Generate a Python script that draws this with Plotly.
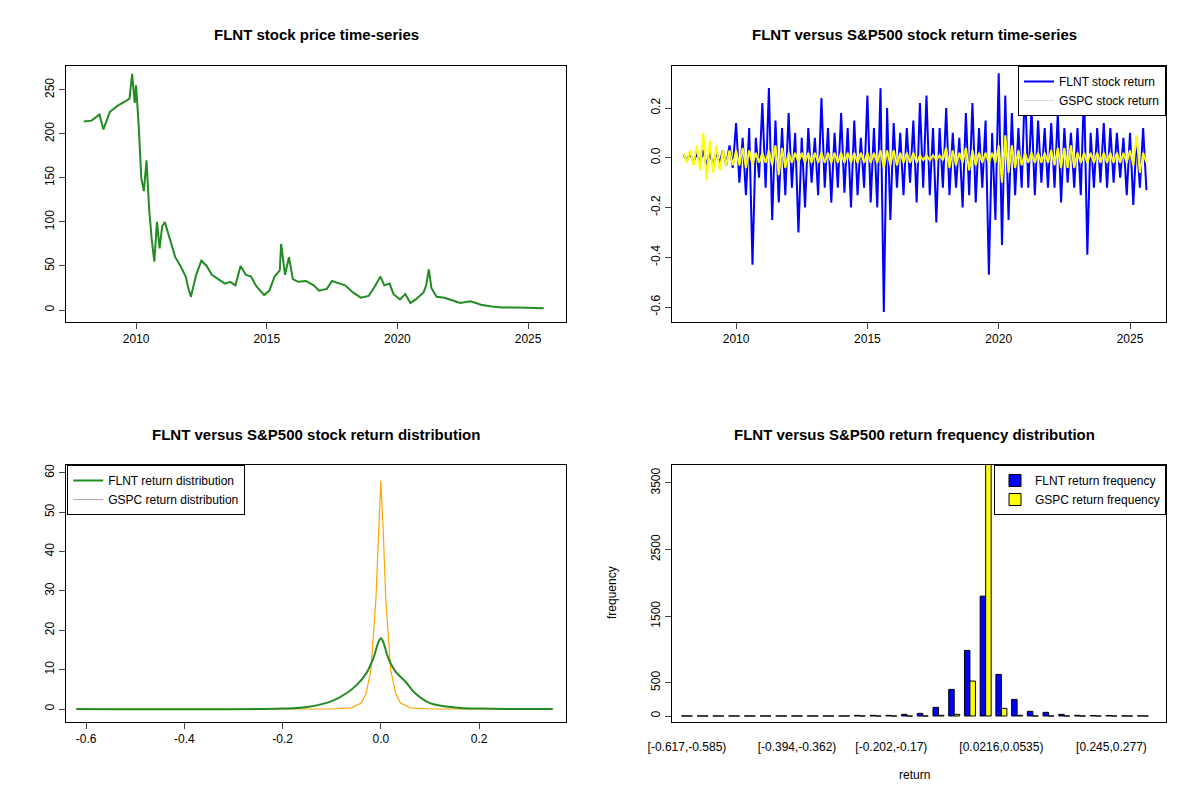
import plotly.graph_objects as go

# ---- price series (estimated) ----
price_t = [2008.0,2008.3,2008.6,2008.75,2009.0,2009.3,2009.6,2009.75,2009.85,2009.95,2010.0,2010.1,2010.2,2010.3,2010.4,2010.5,2010.6,2010.7,2010.8,2010.9,2011.0,2011.1,2011.3,2011.5,2011.7,2011.9,2012.0,2012.1,2012.3,2012.5,2012.7,2012.9,2013.1,2013.4,2013.6,2013.8,2014.0,2014.2,2014.4,2014.6,2014.9,2015.1,2015.3,2015.5,2015.55,2015.7,2015.85,2016.0,2016.2,2016.5,2016.8,2017.0,2017.3,2017.5,2017.8,2018.0,2018.3,2018.6,2018.9,2019.1,2019.35,2019.5,2019.7,2019.85,2020.1,2020.3,2020.5,2020.7,2021.0,2021.1,2021.2,2021.3,2021.5,2021.8,2022.0,2022.4,2022.8,2023.2,2023.6,2024.0,2024.6,2025.6]
price_v = [214,215,222,205,225,232,237,240,268,235,255,210,150,135,170,115,80,55,100,70,95,100,80,60,50,38,25,15,40,56,50,40,36,30,32,28,50,40,38,27,17,22,38,45,75,40,60,35,32,33,28,22,24,33,30,28,20,14,16,25,38,28,30,18,12,18,8,12,20,28,46,25,15,14,12,8,10,6,4,3,3,2]

# ---- return series (estimated envelopes, quarterly) ----
ret_t = [2008.0,2008.25,2008.5,2008.75,2009.0,2009.25,2009.5,2009.75,
         2010.0,2010.25,2010.5,2010.75,2011.0,2011.25,2011.5,2011.75,2012.0,2012.25,2012.5,2012.75,
         2013.0,2013.25,2013.5,2013.75,2014.0,2014.25,2014.5,2014.75,2015.0,2015.25,2015.5,2015.75,
         2016.0,2016.25,2016.5,2016.75,2017.0,2017.25,2017.5,2017.75,2018.0,2018.25,2018.5,2018.75,
         2019.0,2019.25,2019.5,2019.75,2020.0,2020.25,2020.5,2020.75,2021.0,2021.25,2021.5,2021.75,
         2022.0,2022.25,2022.5,2022.75,2023.0,2023.25,2023.5,2023.75,2024.0,2024.25,2024.5,2024.75,
         2025.0,2025.25,2025.5]
flnt_up = [0.01,0.02,0.02,0.03,0.02,0.02,0.03,0.05, 0.14,0.08,0.12,0.08, 0.22,0.28,0.15,0.12, 0.18,0.10,0.08,0.12,
           0.08,0.24,0.12,0.10, 0.18,0.12,0.15,0.08, 0.25,0.12,0.28,0.20, 0.14,0.10,0.12,0.15, 0.22,0.25,0.12,0.12,
           0.20,0.10,0.08,0.18, 0.22,0.12,0.15,0.10, 0.34,0.25,0.18,0.12, 0.30,0.20,0.15,0.12, 0.14,0.18,0.12,0.10,
           0.12,0.28,0.10,0.12, 0.14,0.12,0.10,0.08, 0.10,0.08,0.12]
flnt_dn = [-0.01,-0.02,-0.02,-0.03,-0.03,-0.02,-0.03,-0.04, -0.10,-0.15,-0.43,-0.08, -0.12,-0.25,-0.18,-0.15, -0.12,-0.30,-0.20,-0.10,
           -0.15,-0.12,-0.18,-0.12, -0.14,-0.20,-0.15,-0.12, -0.18,-0.20,-0.62,-0.25, -0.12,-0.15,-0.10,-0.18, -0.12,-0.15,-0.26,-0.12,
           -0.15,-0.12,-0.20,-0.15, -0.18,-0.12,-0.47,-0.25, -0.35,-0.25,-0.15,-0.12, -0.12,-0.15,-0.10,-0.12, -0.12,-0.18,-0.10,-0.12,
           -0.15,-0.39,-0.12,-0.10, -0.12,-0.10,-0.08,-0.15, -0.19,-0.12,-0.13]
gspc_up = [0.02,0.03,0.05,0.10,0.07,0.05,0.03,0.03, 0.03,0.04,0.03,0.02, 0.02,0.03,0.05,0.04, 0.02,0.02,0.02,0.02,
           0.02,0.02,0.02,0.02, 0.02,0.02,0.02,0.02, 0.02,0.02,0.03,0.03, 0.03,0.02,0.02,0.02, 0.01,0.01,0.01,0.01,
           0.04,0.03,0.02,0.04, 0.03,0.02,0.02,0.02, 0.05,0.09,0.05,0.03, 0.02,0.02,0.02,0.02, 0.03,0.04,0.04,0.05,
           0.02,0.02,0.02,0.02, 0.02,0.02,0.02,0.02, 0.03,0.09,0.02]
gspc_dn = [-0.02,-0.03,-0.05,-0.09,-0.06,-0.05,-0.03,-0.03, -0.03,-0.04,-0.03,-0.02, -0.02,-0.03,-0.07,-0.04, -0.02,-0.02,-0.02,-0.02,
           -0.02,-0.02,-0.02,-0.02, -0.02,-0.02,-0.02,-0.02, -0.02,-0.02,-0.04,-0.03, -0.03,-0.02,-0.02,-0.02, -0.01,-0.01,-0.01,-0.01,
           -0.04,-0.03,-0.02,-0.05, -0.03,-0.02,-0.02,-0.02, -0.10,-0.06,-0.04,-0.03, -0.02,-0.02,-0.02,-0.02, -0.03,-0.04,-0.04,-0.04,
           -0.02,-0.02,-0.02,-0.02, -0.02,-0.02,-0.02,-0.02, -0.03,-0.06,-0.02]

# ---- densities (estimated) ----
flnt_dx = [-0.62,-0.2,-0.15,-0.1,-0.07,-0.05,-0.03,-0.015,-0.005,0.0,0.005,0.015,0.03,0.05,0.07,0.1,0.15,0.2,0.35]
flnt_dy = [0,0.1,0.5,2,4,6,9,13,17,18,17,13,9.5,7,4,1.5,0.4,0.1,0]
gspc_dx = [-0.62,-0.1,-0.06,-0.04,-0.03,-0.02,-0.01,-0.005,0.0,0.005,0.01,0.02,0.03,0.04,0.06,0.1,0.35]
gspc_dy = [0,0,0.3,1.5,4,10,28,45,58,45,28,10,4,1.5,0.3,0,0]

# ---- histogram (estimated counts) ----
bin_lo = [-0.617,-0.585,-0.553,-0.521,-0.489,-0.457,-0.426,-0.394,-0.362,-0.330,-0.298,-0.266,-0.234,-0.202,-0.170,
          -0.138,-0.106,-0.0743,-0.0424,-0.0104,0.0216,0.0535,0.0854,0.117,0.149,0.181,0.213,0.245,0.277,0.309]
bin_hi = bin_lo[1:] + [0.341]
flnt_cnt = [1,1,1,1,1,1,1,1,1,1,1,10,10,10,25,40,130,400,985,1800,625,250,70,55,25,10,8,8,2,2]
gspc_cnt = [0,0,0,0,0,0,0,0,0,0,0,0,0,0,0,0,10,25,525,4200,115,10,0,0,0,0,0,0,0,0]
show_lbl = [0,7,13,20,27]

def fmt(v):
    return ("%.3g" % v)
bin_lab = ["[%s,%s)" % (fmt(a), fmt(b)) for a, b in zip(bin_lo, bin_hi)]

rt, fy, gy = [], [], []
for t, u, d, gu, gd in zip(ret_t, flnt_up, flnt_dn, gspc_up, gspc_dn):
    rt += [t, t + 0.125]
    fy += [u, d]
    gy += [gu, gd]

OFF = 8
def px(x):
    return (x - OFF) / 1200
def py(y):
    return 1 - (y - OFF) / 800

fig = go.Figure()
F = "Liberation Sans, Arial, sans-serif"
dom = {"x": [px(66), px(566)], "x2": [px(672), px(1166)]}
ytop = [py(322), py(66)]
ybot = [py(722), py(465)]

fig.add_trace(go.Scatter(x=price_t, y=price_v, mode="lines", line=dict(color="#228B22", width=2), showlegend=False, xaxis="x", yaxis="y"))
fig.add_trace(go.Scatter(x=rt, y=fy, mode="lines", line=dict(color="blue", width=2), name="FLNT stock return", xaxis="x2", yaxis="y2", legend="legend"))
fig.add_trace(go.Scatter(x=rt, y=gy, mode="lines", line=dict(color="yellow", width=2), name="GSPC stock return", xaxis="x2", yaxis="y2", legend="legend", showlegend=False))
fig.add_trace(go.Scatter(x=[None], y=[None], mode="lines", line=dict(color="#dddddd", width=1), name="GSPC stock return", xaxis="x2", yaxis="y2", legend="legend"))

fig.add_trace(go.Scatter(x=gspc_dx, y=gspc_dy, mode="lines", line=dict(color="orange", width=1.2), showlegend=False, xaxis="x3", yaxis="y3"))
fig.add_trace(go.Scatter(x=flnt_dx, y=flnt_dy, mode="lines", line=dict(color="#228B22", width=2, shape="spline"), name="FLNT return distribution", xaxis="x3", yaxis="y3", legend="legend2"))
fig.add_trace(go.Scatter(x=[None], y=[None], mode="lines", line=dict(color="#aaaaaa", width=1), name="GSPC return distribution", xaxis="x3", yaxis="y3", legend="legend2"))

fig.add_trace(go.Bar(x=list(range(30)), y=flnt_cnt, marker=dict(color="blue", line=dict(color="black", width=1)), name="FLNT return frequency", xaxis="x4", yaxis="y4", legend="legend3", offsetgroup="a"))
fig.add_trace(go.Bar(x=list(range(30)), y=gspc_cnt, marker=dict(color="yellow", line=dict(color="black", width=1)), name="GSPC return frequency", xaxis="x4", yaxis="y4", legend="legend3", offsetgroup="b"))

ax = dict(showline=True, mirror=True, linecolor="black", linewidth=1, ticks="outside", ticklen=6, showgrid=False, zeroline=False,
          tickfont=dict(size=12, color="black"), automargin=False)
yax = dict(ax, tickangle=-90)
fig.update_layout(
    width=1200, height=800, margin=dict(l=0, r=0, t=0, b=0, autoexpand=False), plot_bgcolor="white", paper_bgcolor="white",
    font=dict(family=F, color="black"), barmode="group", bargap=0.3, bargroupgap=0,
    xaxis=dict(ax, domain=dom["x"], range=[2007.32, 2026.45], tickvals=[2010, 2015, 2020, 2025], anchor="y"),
    yaxis=dict(yax, domain=ytop, range=[-13.6, 277], tickvals=[0, 50, 100, 150, 200, 250], anchor="x"),
    xaxis2=dict(ax, domain=dom["x2"], range=[2007.56, 2026.37], tickvals=[2010, 2015, 2020, 2025], anchor="y2"),
    yaxis2=dict(yax, domain=ytop, range=[-0.66, 0.369], tickvals=[-0.6, -0.4, -0.2, 0, 0.2], ticktext=["-0.6", "-0.4", "-0.2", "0.0", "0.2"], anchor="x2"),
    xaxis3=dict(ax, domain=dom["x"], range=[-0.641, 0.377], tickvals=[-0.6, -0.4, -0.2, 0, 0.2], ticktext=["-0.6", "-0.4", "-0.2", "0.0", "0.2"], anchor="y3"),
    yaxis3=dict(yax, domain=ybot, range=[-3.3, 62], tickvals=[0, 10, 20, 30, 40, 50, 60], anchor="x3"),
    xaxis4=dict(ax, domain=dom["x2"], range=[-0.95, 30.47], tickvals=show_lbl, ticktext=[bin_lab[i] for i in show_lbl], ticks="outside", ticklen=14, tickcolor="rgba(0,0,0,0)", anchor="y4"),
    yaxis4=dict(yax, domain=ybot, range=[-90, 3770], tickvals=[0, 500, 1500, 2500, 3500], anchor="x4"),
    legend=dict(x=dom["x2"][1], xanchor="right", y=ytop[1], yanchor="top", bordercolor="black", borderwidth=1, bgcolor="white", font=dict(size=12), tracegroupgap=0),
    legend2=dict(x=dom["x"][0] + 0.001, xanchor="left", y=ybot[1], yanchor="top", bordercolor="black", borderwidth=1, bgcolor="white", font=dict(size=12)),
    legend3=dict(x=dom["x2"][1], xanchor="right", y=ybot[1], yanchor="top", bordercolor="black", borderwidth=1, bgcolor="white", font=dict(size=12)),
)
titles = [("FLNT stock price time-series", 316, 35), ("FLNT versus S&P500 stock return time-series", 914, 35),
          ("FLNT versus S&P500 stock return distribution", 316, 435), ("FLNT versus S&P500 return frequency distribution", 914, 435)]
for txt, tx, ty in titles:
    fig.add_annotation(text="<b>%s</b>" % txt, x=px(tx), y=py(ty), xref="paper", yref="paper", xanchor="center", yanchor="middle",
                       showarrow=False, font=dict(size=15, color="black"))
fig.add_annotation(text="return", x=px(914), y=py(775), xref="paper", yref="paper", xanchor="center", yanchor="middle", showarrow=False, font=dict(size=12))
fig.add_annotation(text="frequency", x=px(612), y=py(593), xref="paper", yref="paper", xanchor="center", yanchor="middle", textangle=-90, showarrow=False, font=dict(size=12))
fig.write_html("out.html")
